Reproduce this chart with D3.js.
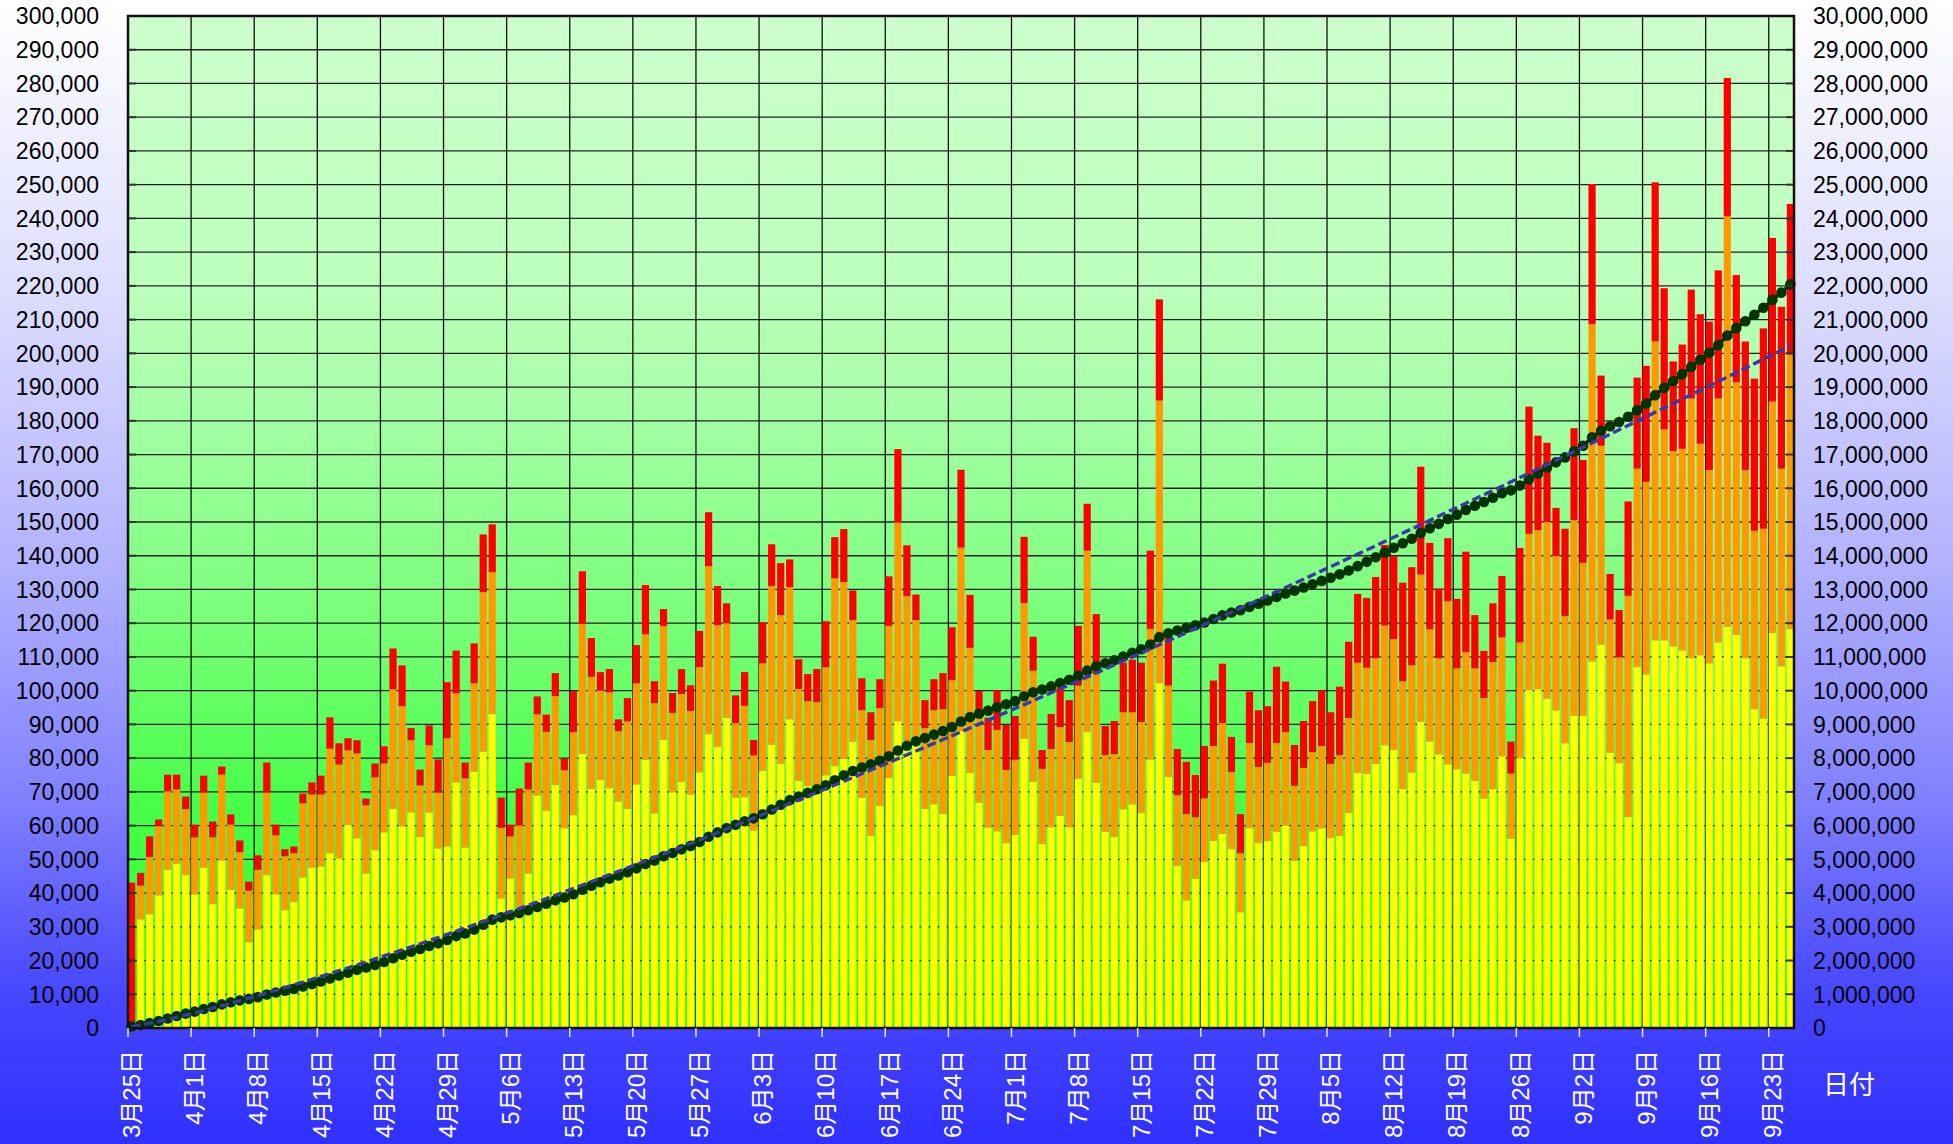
<!DOCTYPE html>
<html><head><meta charset="utf-8">
<script src="https://cdn.jsdelivr.net/npm/d3@7"></script>
<style>html,body{margin:0;padding:0;overflow:hidden;background:#fff}</style>
</head><body>
<svg id="chart" width="1953" height="1144"></svg>
<script>
// ---- data (values in thousands) ----
const startDate = new Date(2021, 2, 25); // 3月25日
const dayCount = 185;
const categories = d3.timeDay.range(startDate, d3.timeDay.offset(startDate, dayCount));

const yellowK = [0,32.2,33.7,39.3,46.9,48.7,45.3,39.6,47.5,36.7,49.6,41.0,35.4,25.4,29.2,45.3,39.6,34.9,37.3,44.6,
47.5,47.9,51.8,50.3,60.2,56.2,45.8,52.7,58.0,64.9,59.8,63.9,56.6,63.9,53.2,53.8,72.8,53.5,76.0,81.9,
93.0,38.4,44.3,35.8,45.8,68.9,64.4,72.0,59.2,63.1,81.2,70.8,73.5,71.1,67.1,64.9,72.2,79.5,63.6,85.4,
69.9,72.9,69.2,75.8,87.1,83.3,91.9,68.2,68.4,58.5,76.2,83.9,78.3,91.5,73.2,71.7,69.9,74.9,77.6,79.9,
84.8,68.2,57.0,65.8,74.1,90.9,85.0,84.0,64.9,66.3,63.4,74.7,88.0,75.6,66.8,59.4,58.3,54.8,57.2,85.7,
73.0,54.5,59.5,62.9,59.5,73.9,87.7,72.7,58.1,56.6,64.8,66.3,63.7,79.5,102.2,74.4,48.0,37.8,44.2,49.2,
55.4,57.5,53.0,34.3,59.2,54.8,55.4,58.1,60.1,49.5,53.9,58.3,59.2,56.3,56.9,63.7,75.6,75.3,78.3,83.8,
82.4,70.8,75.7,90.8,84.9,81.1,78.1,76.7,75.4,73.2,68.0,70.8,80.5,56.1,80.0,100.2,100.4,97.6,94.1,84.4,
92.5,92.6,108.6,113.6,81.6,78.5,62.5,107.0,104.8,114.9,114.9,113.1,111.9,109.6,110.5,108.1,114.3,118.9,116.5,109.6,
94.5,91.7,117.1,107.2,118.2];

const orangeK = [0,10.0,17.0,20.5,23.3,22.0,19.6,16.9,22.3,19.8,25.5,19.3,16.7,15.3,17.7,24.5,17.5,16.0,14.5,22.0,
21.7,21.3,31.0,27.8,22.1,25.2,20.2,21.6,20.4,35.5,35.6,21.4,15.3,19.9,16.6,32.1,26.4,20.5,26.2,47.3,
42.1,20.9,12.5,24.3,24.9,24.1,23.4,26.4,17.2,24.6,38.5,33.3,26.6,28.4,20.9,26.0,30.0,37.2,32.7,33.8,
23.5,26.1,24.8,31.2,49.8,36.1,28.1,22.2,27.1,22.3,31.9,47.1,44.1,39.2,27.3,25.2,26.7,32.1,55.7,52.3,
36.1,26.0,28.4,29.0,45.1,59.0,43.0,36.9,24.0,27.9,31.1,28.4,54.4,37.1,27.4,23.0,30.0,21.7,22.3,40.3,
32.9,22.3,23.2,26.3,25.3,27.6,53.8,32.2,22.8,24.6,28.8,27.3,27.0,38.8,83.8,27.1,21.0,25.6,18.3,18.9,
28.2,32.9,22.9,17.5,25.3,22.6,23.2,26.4,27.6,22.3,23.2,23.5,24.4,22.0,24.0,28.2,32.7,31.5,31.3,35.5,
32.9,32.0,31.8,43.6,33.3,28.5,48.4,29.9,36.0,33.4,29.8,37.7,35.3,19.3,34.3,46.3,47.2,52.4,45.8,37.7,
58.1,45.3,100.0,59.0,39.5,31.4,65.6,58.8,57.1,88.6,62.5,57.9,59.8,77.0,62.7,57.3,72.3,121.7,74.9,55.8,
52.9,56.3,68.6,58.6,81.4];

const redK = [43.1,3.8,6.1,2.0,4.9,4.4,3.7,3.8,5.0,4.7,2.4,3.0,3.5,2.7,4.3,8.9,3.2,2.1,2.0,2.9,
3.6,5.6,9.3,6.3,3.6,3.9,2.0,4.1,5.1,12.1,12.1,3.6,4.7,5.9,9.8,16.6,12.7,4.7,11.8,17.1,
14.2,9.0,3.5,10.9,8.0,5.3,5.1,6.8,3.5,12.2,15.7,11.5,5.4,6.9,3.5,6.9,11.3,14.6,6.5,5.0,
5.9,7.4,7.6,10.7,16.0,11.6,5.9,8.2,10.0,4.6,12.2,12.4,15.4,8.2,8.8,8.0,9.8,13.6,12.2,15.7,
8.8,9.5,8.2,8.6,14.7,21.7,15.1,7.6,8.3,9.2,10.7,15.7,23.1,15.7,5.7,9.6,11.8,13.3,13.0,19.6,
10.1,5.6,10.4,11.7,12.4,17.7,13.9,17.8,8.6,9.8,14.7,15.6,17.6,23.2,30.0,14.2,13.7,15.5,12.5,15.5,
19.4,17.6,10.4,11.6,15.2,16.8,16.8,22.6,15.0,12.1,13.9,15.1,16.5,15.3,20.3,22.6,20.4,20.7,24.1,23.9,
24.6,29.2,29.1,32.0,25.6,20.7,18.7,20.6,29.8,15.8,14.0,17.4,18.2,9.5,28.0,37.7,28.0,23.5,14.3,25.9,
27.2,30.5,41.6,20.8,13.5,14.0,28.0,27.0,34.4,47.2,41.9,26.6,30.9,32.3,38.4,44.0,38.0,41.0,31.8,38.1,
45.1,59.4,48.5,48.0,44.7];

const leftTicks = d3.range(0, 300001, 10000);
const rightTicks = d3.range(0, 30000001, 1000000);
const tickLabels = ["3月25日","4月1日","4月8日","4月15日","4月22日","4月29日","5月6日","5月13日","5月20日",
"5月27日","6月3日","6月10日","6月17日","6月24日","7月1日","7月8日","7月15日","7月22日","7月29日",
"8月5日","8月12日","8月19日","8月26日","9月2日","9月9日","9月16日","9月23日"];
const xTitle = "日付";

// ---- derived ----
const rows = categories.map((d, i) => ({
  i, date: d,
  yellow: yellowK[i] * 1000, orange: orangeK[i] * 1000, red: redK[i] * 1000
}));
let run = 0;
rows.forEach(r => { run += r.yellow + r.orange + r.red; r.cum = run; });
// power trendline (least squares on ln y vs ln x, x = 1..n)
const lx = rows.map(r => Math.log(r.i + 1)), ly = rows.map(r => Math.log(r.cum));
const mx = d3.mean(lx), my = d3.mean(ly);
const b = d3.sum(lx, (v, k) => (v - mx) * (ly[k] - my)) / d3.sum(lx, v => (v - mx) * (v - mx));
const a = Math.exp(my - b * mx);
rows.forEach(r => { r.trend = a * Math.pow(r.i + 1, b); });

// ---- layout ----
const W = 1953, H = 1144;
const L = 128, R = 1794, T = 16, B = 1028;
const svg = d3.select("#chart");
const defs = svg.append("defs");

const pg = defs.append("linearGradient").attr("id", "pageBg").attr("x1", 0).attr("y1", 0).attr("x2", 0).attr("y2", 1);
[[0, "#ffffff"], [0.26, "#dcdcff"], [0.5, "#b0b0ff"], [0.7, "#8080ff"], [0.87, "#4646ff"], [1, "#3030ff"]]
  .forEach(([o, c]) => pg.append("stop").attr("offset", o).attr("stop-color", c));
const gg = defs.append("linearGradient").attr("id", "plotBg").attr("x1", 0).attr("y1", 0).attr("x2", 0).attr("y2", 1);
[[0, "#ccffcc"], [0.27, "#bbffbb"], [0.38, "#a8ffa8"], [0.6, "#78ff78"], [0.78, "#48ff48"], [0.92, "#33ff33"], [1, "#18ff18"]]
  .forEach(([o, c]) => gg.append("stop").attr("offset", o).attr("stop-color", c));

svg.append("rect").attr("width", W).attr("height", H).attr("fill", "url(#pageBg)");
svg.append("rect").attr("x", L).attr("y", T).attr("width", R - L).attr("height", B - T).attr("fill", "url(#plotBg)");

const x = d3.scaleBand().domain(d3.range(dayCount)).range([L, R]).paddingInner(0.2).paddingOuter(0).align(0);
const bw = x.bandwidth();
const yL = d3.scaleLinear().domain([0, 300000]).range([B, T]);
const yR = d3.scaleLinear().domain([0, 30000000]).range([B, T]);
const tickIdx = d3.range(0, dayCount, 7);

// gridlines
svg.append("g").selectAll("line").data(leftTicks.slice(1)).join("line")
  .attr("x1", L).attr("x2", R).attr("y1", d => yL(d)).attr("y2", d => yL(d))
  .attr("stroke", "#222").attr("stroke-width", 1.3);
svg.append("g").selectAll("line").data(tickIdx.slice(1)).join("line")
  .attr("x1", d => x(d)).attr("x2", d => x(d)).attr("y1", T).attr("y2", B)
  .attr("stroke", "#111").attr("stroke-width", 1.3);

// stacked bars
const stack = d3.stack().keys(["yellow", "orange", "red"])(rows);
const colors = { yellow: "#ffff00", orange: "#ff9900", red: "#ff0000" };
svg.append("g").selectAll("g").data(stack).join("g").attr("fill", s => colors[s.key])
  .selectAll("rect").data(s => s).join("rect")
  .attr("x", d => x(d.data.i)).attr("width", bw)
  .attr("y", d => yL(d[1])).attr("height", d => Math.max(0, yL(d[0]) - yL(d[1])));

// cumulative line + dots
const cx = i => x(i) + bw / 2;
svg.append("path").datum(rows)
  .attr("d", d3.line().x(d => cx(d.i)).y(d => yR(d.cum)))
  .attr("fill", "none").attr("stroke", "#003300").attr("stroke-width", 3.5);
svg.append("g").selectAll("circle").data(rows).join("circle")
  .attr("cx", d => cx(d.i)).attr("cy", d => yR(d.cum)).attr("r", 5.3).attr("fill", "#003300");

// trend line
svg.append("path").datum(rows)
  .attr("d", d3.line().x(d => cx(d.i)).y(d => yR(d.trend)))
  .attr("fill", "none").attr("stroke", "#3838a8").attr("stroke-width", 3.4).attr("stroke-dasharray", "9,4");

// inner ticks
svg.append("g").selectAll("line").data(leftTicks).join("line")
  .attr("x1", L).attr("x2", L + 8).attr("y1", d => yL(d)).attr("y2", d => yL(d)).attr("stroke", "#333").attr("stroke-width", 2);
svg.append("g").selectAll("line").data(leftTicks).join("line")
  .attr("x1", R - 8).attr("x2", R).attr("y1", d => yL(d)).attr("y2", d => yL(d)).attr("stroke", "#333").attr("stroke-width", 2);

// border
svg.append("rect").attr("x", L).attr("y", T).attr("width", R - L).attr("height", B - T)
  .attr("fill", "none").attr("stroke", "#111").attr("stroke-width", 2.5);

// axes labels
const fmt = d3.format(",");
svg.append("g").selectAll("text").data(leftTicks).join("text")
  .attr("x", 99).attr("y", d => yL(d)).attr("dy", "0.36em").attr("text-anchor", "end")
  .attr("font-family", "Liberation Sans, Arial, sans-serif").attr("font-size", 23).attr("fill", "#000")
  .text(d => fmt(d));
svg.append("g").selectAll("text").data(rightTicks).join("text")
  .attr("x", 1813).attr("y", d => yR(d)).attr("dy", "0.36em").attr("text-anchor", "start")
  .attr("font-family", "Liberation Sans, Arial, sans-serif").attr("font-size", 23).attr("fill", "#000")
  .text(d => fmt(d));

// x ticks and labels
svg.append("g").selectAll("line").data(tickIdx).join("line")
  .attr("x1", d => x(d)).attr("x2", d => x(d)).attr("y1", B).attr("y2", B + 9)
  .attr("stroke", "#dde").attr("stroke-width", 1.5);
svg.append("g").selectAll("text").data(tickIdx).join("text")
  .attr("transform", (d) => `translate(${cx(d)},1050) rotate(-90)`)
  .attr("dy", "0.36em").attr("text-anchor", "end")
  .attr("font-family", "Liberation Sans, Noto Sans CJK JP, sans-serif").attr("font-size", 24).attr("fill", "#fff")
  .text((d, k) => tickLabels[k]);

svg.append("text").attr("x", 1849).attr("y", 1094).attr("text-anchor", "middle")
  .attr("font-family", "Noto Sans CJK JP, sans-serif").attr("font-size", 26).attr("fill", "#fff").text(xTitle);
</script>
</body></html>
